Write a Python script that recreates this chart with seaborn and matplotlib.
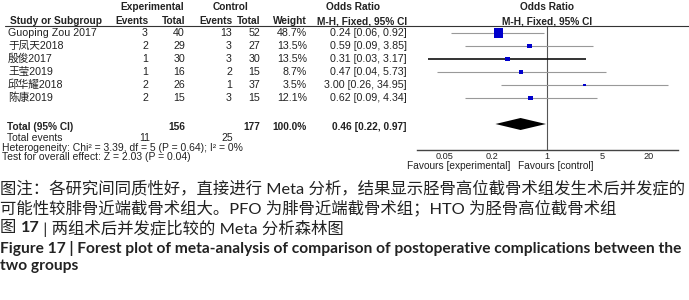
import matplotlib
matplotlib.use('Agg')
import matplotlib.pyplot as plt
from matplotlib.lines import Line2D
import numpy as np
import pandas as pd
import seaborn as sns

# Datos del forest plot
studies = ['Guoping Zou 2017', '于凤天2018', '殷俊2017', '王莹2019', '邱华耀2018', '陈康2019']
exp_events = [3, 2, 1, 1, 2, 2]
exp_total = [40, 29, 30, 16, 26, 15]
ctl_events = [13, 3, 3, 2, 1, 3]
ctl_total = [52, 27, 30, 15, 37, 15]
weights = [48.7, 13.5, 13.5, 8.7, 3.5, 12.1]
odds = [0.24, 0.59, 0.31, 0.47, 3.00, 0.62]
ci_low = [0.06, 0.09, 0.03, 0.04, 0.26, 0.09]
ci_high = [0.92, 3.85, 3.17, 5.73, 34.95, 4.34]
# totales tal como aparecen en la figura
total_exp_n, total_ctl_n = 156, 177
total_exp_ev, total_ctl_ev = 11, 25
total_or, total_lo, total_hi = 0.46, 0.22, 0.97
tick_vals = [0.05, 0.2, 1, 5, 20]
tick_labels = ['0.05', '0.2', '1', '5', '20']

df = pd.DataFrame({'study': studies, 'or': odds, 'lo': ci_low, 'hi': ci_high,
                   'weight': weights, 'row': np.arange(len(studies))})

W, H = 689, 300
fig = plt.figure(figsize=(W / 100, H / 100), dpi=100)
sns.set_style('white')
plt.rcParams['font.family'] = ['Liberation Sans', 'Noto Sans CJK SC']

def fx(px):
    return px / W

def fy(py):
    return 1 - py / H

TXT = ['Liberation Sans', 'Noto Sans CJK SC']
fs_b = 7.3   # cabecera en negrita
fs = 7.7     # filas
fs_n = 7.5   # notas

def t(x, y, s, ha='left', bold=False, size=fs, family=TXT, color='#222222'):
    return fig.text(fx(x), fy(y), s, ha=ha, va='center', fontsize=size,
                    fontweight='bold' if bold else 'normal', family=family, color=color)

# Cabecera
t(152, 7, 'Experimental', ha='center', bold=True, size=fs_b)
t(231, 7, 'Control', ha='center', bold=True, size=fs_b)
t(353, 7, 'Odds Ratio', ha='center', bold=True, size=fs_b)
t(547, 7, 'Odds Ratio', ha='center', bold=True, size=fs_b)
t(10, 21, 'Study or Subgroup', bold=True, size=fs_b)
t(148, 21, 'Events', ha='right', bold=True, size=fs_b)
t(185, 21, 'Total', ha='right', bold=True, size=fs_b)
t(232, 21, 'Events', ha='right', bold=True, size=fs_b)
t(260, 21, 'Total', ha='right', bold=True, size=fs_b)
t(307, 21, 'Weight', ha='right', bold=True, size=fs_b)
t(407, 21, 'M-H, Fixed, 95% CI', ha='right', bold=True, size=fs_b)
t(547, 21, 'M-H, Fixed, 95% CI', ha='center', bold=True, size=fs_b)
fig.add_artist(Line2D([fx(5), fx(689)], [fy(26), fy(26)], color='#333333', lw=0.8))

# Filas de estudios
row_y0, row_dy = 33, 13
for i, r in df.iterrows():
    y = row_y0 + row_dy * i
    t(8, y, r['study'])
    t(148, y, str(exp_events[i]), ha='right')
    t(185, y, str(exp_total[i]), ha='right')
    t(232, y, str(ctl_events[i]), ha='right')
    t(260, y, str(ctl_total[i]), ha='right')
    t(307, y, f"{weights[i]:.1f}%", ha='right')
    t(407, y, f"{odds[i]:.2f} [{ci_low[i]:.2f}, {ci_high[i]:.2f}]", ha='right')

t(7, 127, 'Total (95% CI)', bold=True, size=fs_b)
t(185, 127, str(total_exp_n), ha='right', bold=True, size=fs_b)
t(260, 127, str(total_ctl_n), ha='right', bold=True, size=fs_b)
t(307, 127, '100.0%', ha='right', bold=True, size=fs_b)
t(407, 127, f"{total_or:.2f} [{total_lo:.2f}, {total_hi:.2f}]", ha='right', bold=True, size=fs_b)
t(7, 138, 'Total events', size=fs_n)
t(150, 138, str(total_exp_ev), ha='right', size=fs_n)
t(233, 138, str(total_ctl_ev), ha='right', size=fs_n)
t(2, 148, 'Heterogeneity: Chi² = 3.39, df = 5 (P = 0.64); I² = 0%', size=fs_n)
t(2, 157, 'Test for overall effect: Z = 2.03 (P = 0.04)', size=fs_n)

# Panel del forest plot
x_one, per_dec = 547, 78.4
ax_l, ax_r, ax_bot = 417, 678, 150
ax = fig.add_axes([fx(ax_l), fy(ax_bot), fx(ax_r - ax_l), ax_bot / H])
ax.set_xscale('log')
ax.set_xlim(10 ** ((ax_l - x_one) / per_dec), 10 ** ((ax_r - x_one) / per_dec))
y_top = (0 - row_y0) / row_dy
y_bot = (ax_bot - row_y0) / row_dy
ax.set_ylim(y_bot, y_top)

ax.vlines(1, (26 - row_y0) / row_dy, y_bot, color='#555555', lw=0.8)
colors = ['#999999'] * len(df)
widths = [0.8] * len(df)
colors[2], widths[2] = '#111111', 1.2
ax.hlines(df['row'], df['lo'], df['hi'], colors=colors, linewidths=widths)
sns.scatterplot(data=df, x='or', y='row', size='weight',
                sizes=(min(weights) * 0.9, max(weights) * 0.95), marker='s',
                color='#0000cc', linewidth=0, legend=False, ax=ax, zorder=3)

tot_row = (124 - row_y0) / row_dy
hh = 6 / row_dy
ax.fill([total_lo, total_or, total_hi, total_or],
        [tot_row, tot_row - hh, tot_row, tot_row + hh], color='black', lw=0)

ax.set_xticks(tick_vals)
ax.set_xticklabels(tick_labels)
ax.xaxis.set_minor_locator(matplotlib.ticker.NullLocator())
ax.set_yticks([])
ax.set_xlabel('')
ax.set_ylabel('')
for s in ['top', 'left', 'right']:
    ax.spines[s].set_visible(False)
ax.spines['bottom'].set_color('#444444')
ax.spines['bottom'].set_linewidth(1.0)
ax.tick_params(axis='x', direction='inout', length=4.5, width=1, color='#444444',
               labelsize=6.6, pad=-0.5, labelcolor='#222222')
ax.patch.set_alpha(0)

t(510, 166, 'Favours [experimental]', size=fs_b)
fig.texts[-1].set_ha('right')
t(518, 166, 'Favours [control]', size=fs_b)

# Pies de figura
renderer = fig.canvas.get_renderer()
CAP = ['Lato', 'Noto Sans CJK SC']

def fit_size(s, width_px, bold=False, family=CAP):
    tmp = fig.text(0, 0, s, fontsize=10, family=family,
                   fontweight='bold' if bold else 'normal')
    w = tmp.get_window_extent(renderer).width
    tmp.remove()
    return 10 * width_px / w

cap1 = '图注：各研究间同质性好，直接进行 Meta 分析，结果显示胫骨高位截骨术组发生术后并发症的'
cap2 = '可能性较腓骨近端截骨术组大。PFO 为腓骨近端截骨术组；HTO 为胫骨高位截骨术组'
cap4 = 'Figure 17 | Forest plot of meta-analysis of comparison of postoperative complications between the'
cap5 = 'two groups'
cs = fit_size(cap1, 686)
es = fit_size(cap4, 683, bold=True)
t(0, 188, cap1, size=cs, family=CAP)
t(0, 208, cap2, size=cs, family=CAP)
x = 0
for piece, b in [('图 ', False), ('17', True), (' | 两组术后并发症比较的 Meta 分析森林图', False)]:
    tx = t(x, 228, piece, size=cs, family=CAP, bold=b)
    x += tx.get_window_extent(renderer).width
t(0, 248, cap4, size=es, family=CAP, bold=True)
t(0, 266, cap5, size=es, family=CAP, bold=True)

fig.savefig('out.png', dpi=100)
plt.close()
